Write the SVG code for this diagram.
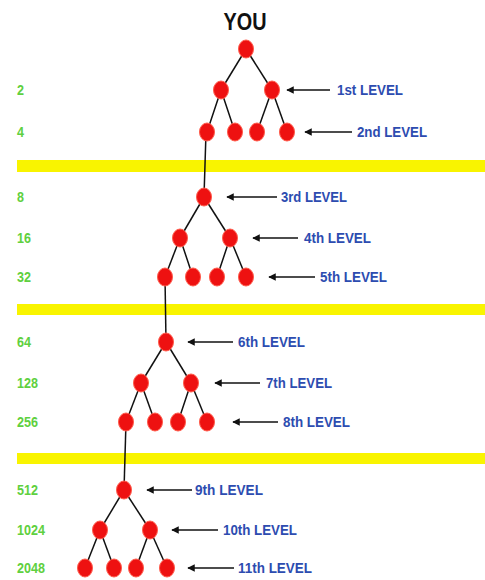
<svg xmlns="http://www.w3.org/2000/svg" width="485" height="580" viewBox="0 0 485 580">
<style>
.band{fill:#f9f400}
.e{stroke:#111;stroke-width:1.5;fill:none}
.a{stroke:#111;stroke-width:1.5;fill:none;marker-end:url(#ah)}
.n{fill:#ee1111;stroke:#ff5a4a;stroke-width:1}
.num{font-family:"Liberation Sans",Arial,sans-serif;font-weight:bold;font-size:14px;fill:#5fd040}
.lv{font-family:"Liberation Sans",Arial,sans-serif;font-weight:bold;font-size:15px;fill:#2d4cb0}
.you{font-family:"Liberation Sans",Arial,sans-serif;font-weight:bold;font-size:23px;fill:#111}
</style>
<defs>
<marker id="ah" viewBox="0 0 10 10" refX="9" refY="5" markerWidth="6.5" markerHeight="5" orient="auto" markerUnits="strokeWidth">
<path d="M0,0 L10,5 L0,10 z" fill="#111"/>
</marker>
</defs>
<rect width="485" height="580" fill="#fff"/>
<rect class="band" x="17" y="160" width="468" height="12"/>
<rect class="band" x="17" y="304" width="468" height="11"/>
<rect class="band" x="17" y="453" width="468" height="11"/>
<text class="you" x="245" y="30" text-anchor="middle" textLength="43" lengthAdjust="spacingAndGlyphs">YOU</text>
<g id="numbers">
<text class="num" x="17" y="95" textLength="7" lengthAdjust="spacingAndGlyphs">2</text>
<text class="num" x="17" y="137" textLength="7" lengthAdjust="spacingAndGlyphs">4</text>
<text class="num" x="17" y="202" textLength="7" lengthAdjust="spacingAndGlyphs">8</text>
<text class="num" x="17" y="243" textLength="14" lengthAdjust="spacingAndGlyphs">16</text>
<text class="num" x="17" y="282" textLength="14" lengthAdjust="spacingAndGlyphs">32</text>
<text class="num" x="17" y="347" textLength="14" lengthAdjust="spacingAndGlyphs">64</text>
<text class="num" x="17" y="388" textLength="21" lengthAdjust="spacingAndGlyphs">128</text>
<text class="num" x="17" y="427" textLength="21" lengthAdjust="spacingAndGlyphs">256</text>
<text class="num" x="17" y="495" textLength="21" lengthAdjust="spacingAndGlyphs">512</text>
<text class="num" x="17" y="535" textLength="28" lengthAdjust="spacingAndGlyphs">1024</text>
<text class="num" x="17" y="573" textLength="28" lengthAdjust="spacingAndGlyphs">2048</text>
</g>
<g id="connectors">
<line class="e" x1="246" y1="49" x2="221" y2="90"/>
<line class="e" x1="246" y1="49" x2="272" y2="90"/>
<line class="e" x1="221" y1="90" x2="207" y2="132"/>
<line class="e" x1="221" y1="90" x2="235" y2="132"/>
<line class="e" x1="272" y1="90" x2="257" y2="132"/>
<line class="e" x1="272" y1="90" x2="287" y2="132"/>
<line class="e" x1="206" y1="132" x2="204" y2="197"/>
<line class="e" x1="204" y1="197" x2="180" y2="238"/>
<line class="e" x1="204" y1="197" x2="230" y2="238"/>
<line class="e" x1="180" y1="238" x2="165" y2="277"/>
<line class="e" x1="180" y1="238" x2="193" y2="277"/>
<line class="e" x1="230" y1="238" x2="217" y2="277"/>
<line class="e" x1="230" y1="238" x2="246" y2="277"/>
<line class="e" x1="165" y1="277" x2="166" y2="342"/>
<line class="e" x1="166" y1="342" x2="141" y2="383"/>
<line class="e" x1="166" y1="342" x2="191" y2="383"/>
<line class="e" x1="141" y1="383" x2="126" y2="422"/>
<line class="e" x1="141" y1="383" x2="155" y2="422"/>
<line class="e" x1="191" y1="383" x2="178" y2="422"/>
<line class="e" x1="191" y1="383" x2="207" y2="422"/>
<line class="e" x1="126" y1="422" x2="124" y2="490"/>
<line class="e" x1="124" y1="490" x2="100" y2="530"/>
<line class="e" x1="124" y1="490" x2="150" y2="530"/>
<line class="e" x1="100" y1="530" x2="85" y2="568"/>
<line class="e" x1="100" y1="530" x2="114" y2="568"/>
<line class="e" x1="150" y1="530" x2="136" y2="568"/>
<line class="e" x1="150" y1="530" x2="167" y2="568"/>
<line class="a" x1="330" y1="90" x2="287" y2="90"/>
<line class="a" x1="352" y1="132" x2="305" y2="132"/>
<line class="a" x1="277" y1="197" x2="227" y2="197"/>
<line class="a" x1="298" y1="238" x2="253" y2="238"/>
<line class="a" x1="315" y1="277" x2="269" y2="277"/>
<line class="a" x1="233" y1="342" x2="188" y2="342"/>
<line class="a" x1="260" y1="383" x2="215" y2="383"/>
<line class="a" x1="278" y1="422" x2="233" y2="422"/>
<line class="a" x1="192" y1="490" x2="147" y2="490"/>
<line class="a" x1="218" y1="530" x2="172" y2="530"/>
<line class="a" x1="234" y1="568" x2="188" y2="568"/>
</g>
<g id="you"><ellipse class="n" cx="246" cy="49" rx="7.5" ry="9"/></g>
<g id="level1">
<ellipse class="n" cx="221" cy="90" rx="7.5" ry="9"/>
<ellipse class="n" cx="272" cy="90" rx="7.5" ry="9"/>
<text class="lv" x="337" y="95" textLength="66" lengthAdjust="spacingAndGlyphs">1st LEVEL</text>
</g>
<g id="level2">
<ellipse class="n" cx="207" cy="132" rx="7.5" ry="9"/>
<ellipse class="n" cx="235" cy="132" rx="7.5" ry="9"/>
<ellipse class="n" cx="257" cy="132" rx="7.5" ry="9"/>
<ellipse class="n" cx="287" cy="132" rx="7.5" ry="9"/>
<text class="lv" x="357" y="137" textLength="70" lengthAdjust="spacingAndGlyphs">2nd LEVEL</text>
</g>
<g id="level3">
<ellipse class="n" cx="204" cy="197" rx="7.5" ry="9"/>
<text class="lv" x="281" y="202" textLength="66" lengthAdjust="spacingAndGlyphs">3rd LEVEL</text>
</g>
<g id="level4">
<ellipse class="n" cx="180" cy="238" rx="7.5" ry="9"/>
<ellipse class="n" cx="230" cy="238" rx="7.5" ry="9"/>
<text class="lv" x="304" y="243" textLength="67" lengthAdjust="spacingAndGlyphs">4th LEVEL</text>
</g>
<g id="level5">
<ellipse class="n" cx="165" cy="277" rx="7.5" ry="9"/>
<ellipse class="n" cx="193" cy="277" rx="7.5" ry="9"/>
<ellipse class="n" cx="217" cy="277" rx="7.5" ry="9"/>
<ellipse class="n" cx="246" cy="277" rx="7.5" ry="9"/>
<text class="lv" x="320" y="282" textLength="67" lengthAdjust="spacingAndGlyphs">5th LEVEL</text>
</g>
<g id="level6">
<ellipse class="n" cx="166" cy="342" rx="7.5" ry="9"/>
<text class="lv" x="238" y="347" textLength="67" lengthAdjust="spacingAndGlyphs">6th LEVEL</text>
</g>
<g id="level7">
<ellipse class="n" cx="141" cy="383" rx="7.5" ry="9"/>
<ellipse class="n" cx="191" cy="383" rx="7.5" ry="9"/>
<text class="lv" x="266" y="388" textLength="66" lengthAdjust="spacingAndGlyphs">7th LEVEL</text>
</g>
<g id="level8">
<ellipse class="n" cx="126" cy="422" rx="7.5" ry="9"/>
<ellipse class="n" cx="155" cy="422" rx="7.5" ry="9"/>
<ellipse class="n" cx="178" cy="422" rx="7.5" ry="9"/>
<ellipse class="n" cx="207" cy="422" rx="7.5" ry="9"/>
<text class="lv" x="283" y="427" textLength="67" lengthAdjust="spacingAndGlyphs">8th LEVEL</text>
</g>
<g id="level9">
<ellipse class="n" cx="124" cy="490" rx="7.5" ry="9"/>
<text class="lv" x="195" y="495" textLength="68" lengthAdjust="spacingAndGlyphs">9th LEVEL</text>
</g>
<g id="level10">
<ellipse class="n" cx="100" cy="530" rx="7.5" ry="9"/>
<ellipse class="n" cx="150" cy="530" rx="7.5" ry="9"/>
<text class="lv" x="223" y="535" textLength="74" lengthAdjust="spacingAndGlyphs">10th LEVEL</text>
</g>
<g id="level11">
<ellipse class="n" cx="85" cy="568" rx="7.5" ry="9"/>
<ellipse class="n" cx="114" cy="568" rx="7.5" ry="9"/>
<ellipse class="n" cx="136" cy="568" rx="7.5" ry="9"/>
<ellipse class="n" cx="167" cy="568" rx="7.5" ry="9"/>
<text class="lv" x="238" y="573" textLength="74" lengthAdjust="spacingAndGlyphs">11th LEVEL</text>
</g>
</svg>
